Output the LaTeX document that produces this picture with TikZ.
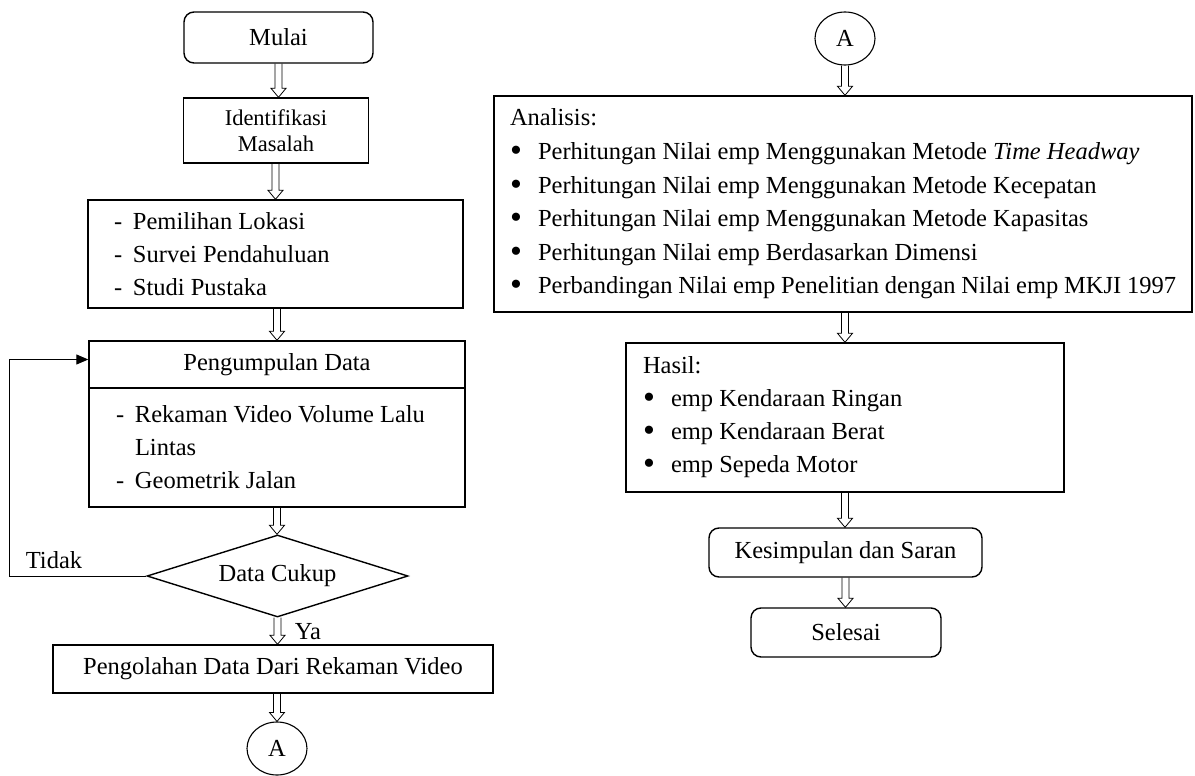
\documentclass[tikz,border=0pt]{standalone}
\usepackage{fontspec}
\setmainfont{Liberation Serif}
\usetikzlibrary{shapes.geometric,arrows.meta,calc}

\newcommand{\dashitem}[1]{\makebox[19pt][l]{-}#1}
\newcommand{\bulitem}[1]{\makebox[28pt][l]{\raisebox{-2pt}{\fontsize{34}{34}\selectfont\textbullet}}#1}

\tikzset{
  box/.style={draw,line width=1.4pt,inner sep=0pt,align=center},
  roundbox/.style={box,rounded corners=10pt},
  listbox/.style={draw,line width=1.4pt,align=left,inner ysep=0pt,
    execute at begin node={\spaceskip=0pt\xspaceskip=0pt}},
  conn/.style={draw,ellipse,line width=1.1pt,minimum width=60pt,minimum height=53pt,inner sep=0pt},
  hollow/.style={line width=0.8pt,line join=miter,to path={
    let \p1=(\tikztostart), \p2=(\tikztotarget) in
    (\x1-3.5pt,\y1) -- (\x1-3.5pt,\y2+9pt) -- (\x1-7.5pt,\y2+9pt) -- (\x1,\y2)
    -- (\x1+7.5pt,\y2+9pt) -- (\x1+3.5pt,\y2+9pt) -- (\x1+3.5pt,\y1)}}
}

\begin{document}
\begin{tikzpicture}[x=1pt,y=-1pt,font=\fontsize{24.5}{33}\selectfont]
    \useasboundingbox (0,0) rectangle (1195,776);
    % left column
    \node[roundbox,minimum width=189pt,minimum height=51pt] (mulai) at (278.5,37.5) {Mulai};
    \node[box,minimum width=185pt,minimum height=65pt,font=\fontsize{22.5}{26}\selectfont] (ident) at (276,130.5) {Identifikasi\\Masalah};
    \node[listbox,text width=323pt,inner xsep=26pt,minimum height=108pt] (lokasi) at (275.5,254)
        {\dashitem{Pemilihan Lokasi}\\\dashitem{Survei Pendahuluan}\\\dashitem{Studi Pustaka}};
    \node[box,minimum width=376pt,minimum height=47pt] (kumpul) at (277,364.5) {Pengumpulan Data};
    \node[listbox,text width=322pt,inner xsep=27pt,minimum height=119pt] (rekam) at (277,447.5)
        {\dashitem{Rekaman Video Volume Lalu}\\\hspace*{19pt}Lintas\\\dashitem{Geometrik Jalan}};
    \node[diamond,aspect=3.2,draw,line width=1.4pt,minimum width=261pt,minimum height=82pt,inner sep=0pt] (cukup) at (277.5,576) {Data Cukup};
    \node[box,minimum width=440pt,minimum height=48pt] (olah) at (273,669) {Pengolahan Data Dari Rekaman Video};
    \node[conn] (ka) at (277,748.5) {A};
    \node (tidak) at (54,560) {Tidak};
    \node (ya) at (308,632) {Ya};

    \draw[hollow] (mulai.south) to (ident.north);
    \draw[hollow] (ident.south -| lokasi) to (lokasi.north);
    \draw[hollow] (lokasi.south -| kumpul) to (kumpul.north);
    \draw[hollow] (rekam.south) to (cukup.north);
    \draw[hollow] (cukup.south) to (olah.north);
    \draw[hollow] (olah.south -| ka) to (ka.north);
    \draw[line width=1pt,-{Triangle[length=12pt,width=10pt]}] (cukup.west) -- ++(-137,0) |- ($(kumpul.west)+(0,-5)$);

    % right column
    \node[conn] (kb) at (845,38.5) {A};
    \node[listbox,text width=666pt,inner xsep=16pt,minimum height=216pt,font=\fontsize{24.5}{33.6}\selectfont] (analisis) at (843,204)
        {Analisis:\\
         \bulitem{Perhitungan Nilai emp Menggunakan Metode \textit{Time Headway}}\\
         \bulitem{Perhitungan Nilai emp Menggunakan Metode Kecepatan}\\
         \bulitem{Perhitungan Nilai emp Menggunakan Metode Kapasitas}\\
         \bulitem{Perhitungan Nilai emp Berdasarkan Dimensi}\\
         \bulitem{Perbandingan Nilai emp Penelitian dengan Nilai emp MKJI 1997}};
    \node[listbox,text width=404pt,inner xsep=17pt,minimum height=149pt] (hasil) at (845,417.5)
        {Hasil:\\\bulitem{emp Kendaraan Ringan}\\\bulitem{emp Kendaraan Berat}\\\bulitem{emp Sepeda Motor}};
    \node[roundbox,minimum width=273pt,minimum height=49pt] (simpul) at (845.5,552.5) {Kesimpulan dan Saran};
    \node[roundbox,minimum width=190pt,minimum height=49pt] (selesai) at (846,632.5) {Selesai};

    \draw[hollow] (kb.south) to (analisis.north -| kb);
    \draw[hollow] (analisis.south -| hasil) to (hasil.north);
    \draw[hollow] (hasil.south) to (simpul.north);
    \draw[hollow] (simpul.south) to (selesai.north);
\end{tikzpicture}
\end{document}
